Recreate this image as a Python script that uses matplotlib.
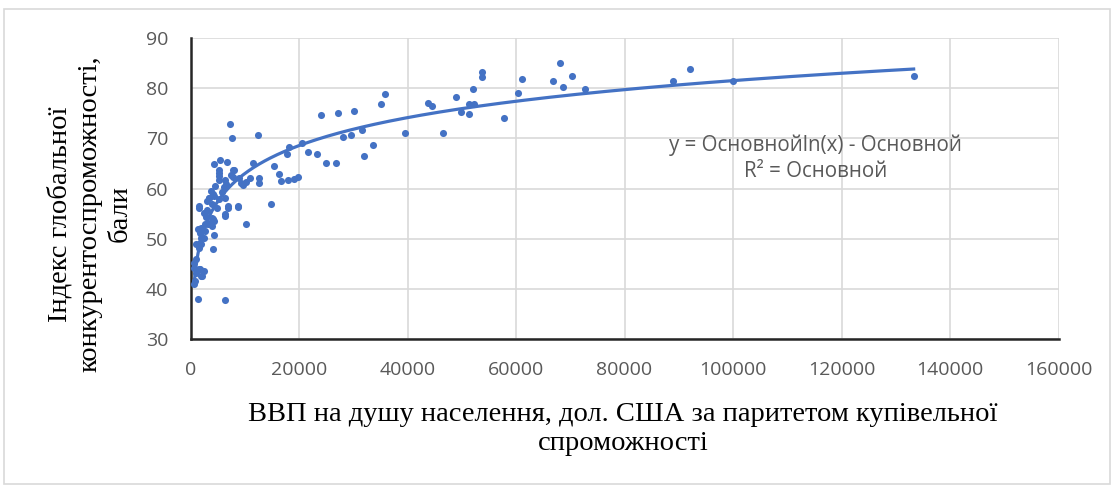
import matplotlib.pyplot as plt
from matplotlib.patches import Rectangle
import numpy as np

# GDP per capita (PPP, USD) vs global competitiveness index
gdp = [133300, 100000, 92100, 89000, 72700, 70300, 68700, 68200, 66900, 61100,
       60400, 57800, 53800, 53800, 52300, 52100, 51400, 51400, 49900, 49000,
       46600, 44600, 43800, 39600, 35900, 35200, 33700, 31900, 31700, 30200,
       29500, 28200, 27100, 26900, 24900, 24100, 23400, 21700, 20500, 19900,
       19000, 18200, 18000, 17700, 16600, 16400, 15300, 14900, 12700, 12700,
       12500, 11600, 10900, 10300, 10300, 9600, 9400, 9000, 8800, 8800,
       8100, 7900, 7900, 7700, 7500, 7200, 7000, 7000, 6800, 6400,
       6300, 6300, 6300, 6100, 5500, 5300, 5300, 5300, 5200, 5200,
       4800, 4400, 4400, 4400, 4400, 4200, 4200, 4100, 3900, 3900,
       3500, 3500, 3300, 3300, 2600, 2600, 2600, 2400, 2400, 2400,
       2200, 2000, 2000, 2000, 2000, 1700, 1700, 1700, 1500, 1500,
       1500, 1500, 1300, 1100, 1100, 1100, 900, 700, 700, 700,
       6400, 1300, 3000, 3700, 4600, 5800, 6600, 2900, 3100, 4000]
gci = [82.4, 81.4, 83.8, 81.4, 79.8, 82.4, 80.2, 85.0, 81.4, 81.8,
       79.0, 74.0, 83.2, 82.2, 76.8, 79.8, 76.8, 74.8, 75.2, 78.2,
       71.0, 76.4, 77.0, 71.0, 78.8, 76.8, 68.6, 66.4, 71.6, 75.4,
       70.6, 70.2, 75.0, 65.0, 65.0, 74.6, 66.8, 67.2, 69.0, 62.2,
       61.8, 68.2, 61.6, 66.8, 61.4, 62.8, 64.4, 57.0, 62.0, 61.0,
       70.6, 65.0, 62.0, 61.2, 53.0, 60.6, 61.0, 62.0, 56.4, 56.6,
       63.6, 62.2, 63.6, 70.0, 62.6, 72.8, 56.6, 56.2, 65.2, 37.8,
       54.6, 58.2, 61.6, 60.2, 65.6, 63.6, 62.4, 61.6, 63.0, 58.0,
       56.2, 64.8, 58.6, 53.6, 50.8, 48.0, 54.0, 59.0, 57.0, 54.2,
       58.2, 58.2, 53.0, 53.2, 55.2, 51.6, 53.0, 50.2, 43.6, 55.2,
       42.6, 52.2, 50.2, 49.0, 42.6, 51.2, 49.2, 44.0, 56.6, 56.2,
       48.2, 44.0, 38.0, 46.0, 43.2, 49.0, 41.6, 45.2, 41.0, 44.2,
       55.0, 52.0, 57.6, 59.6, 60.4, 59.4, 60.8, 54.4, 55.8, 52.6]

x_ticks = [0, 20000, 40000, 60000, 80000, 100000, 120000, 140000, 160000]
y_ticks = [30, 40, 50, 60, 70, 80, 90]

blue = '#4472C4'
grey = '#595959'

fig = plt.figure(figsize=(11.17, 4.87), dpi=100)
W, H = 1117, 487
ax = fig.add_axes([190.5 / W, 1 - 339 / H, 868 / W, 301 / H])

# outer chart border
fig.patches.append(Rectangle((4 / W, 3 / H), 1106 / W, 475 / H, transform=fig.transFigure,
                             fill=False, edgecolor='#d9d9d9', linewidth=1.2))

ax.scatter(gdp, gci, s=26, color=blue, zorder=3, linewidths=0)

# logarithmic trend line
k, b = np.polyfit(np.log(gdp), gci, 1)
xs = np.linspace(min(gdp), max(gdp), 400)
ax.plot(xs, k * np.log(xs) + b, color=blue, linewidth=2.3, zorder=4)

ax.set_xlim(0, 160000)
ax.set_ylim(30, 90)
ax.set_xticks(x_ticks)
ax.set_yticks(y_ticks)
ax.grid(True, color='#d9d9d9', linewidth=1.2)
ax.set_axisbelow(True)
for s in ['top', 'right']:
    ax.spines[s].set_visible(False)
for s in ['left', 'bottom']:
    ax.spines[s].set_color('#262626')
    ax.spines[s].set_linewidth(1.8)
ax.tick_params(length=0, labelsize=14, labelcolor=grey)
ax.tick_params(axis='x', pad=16)
ax.tick_params(axis='y', pad=16)
for lab in ax.get_xticklabels() + ax.get_yticklabels():
    lab.set_family('Open Sans')

ax.text(0.72, 0.60, 'y = Основнойln(x) - Основной\nR² = Основной', transform=ax.transAxes,
        ha='center', va='center', fontsize=14.8, color=grey, linespacing=1.35,
        family='Open Sans')

fig.text(623 / W, 1 - 429 / H, 'ВВП на душу населення, дол. США за паритетом купівельної\nспроможності',
         ha='center', va='center', fontsize=20.5, family='Liberation Serif', linespacing=1.25)
fig.text(90 / W, 1 - 214 / H, 'Індекс глобальної\nконкурентоспроможності,\nбали',
         ha='center', va='center', rotation=90, fontsize=20.5, family='Liberation Serif',
         linespacing=1.25)

fig.savefig('out.png', dpi=100)
